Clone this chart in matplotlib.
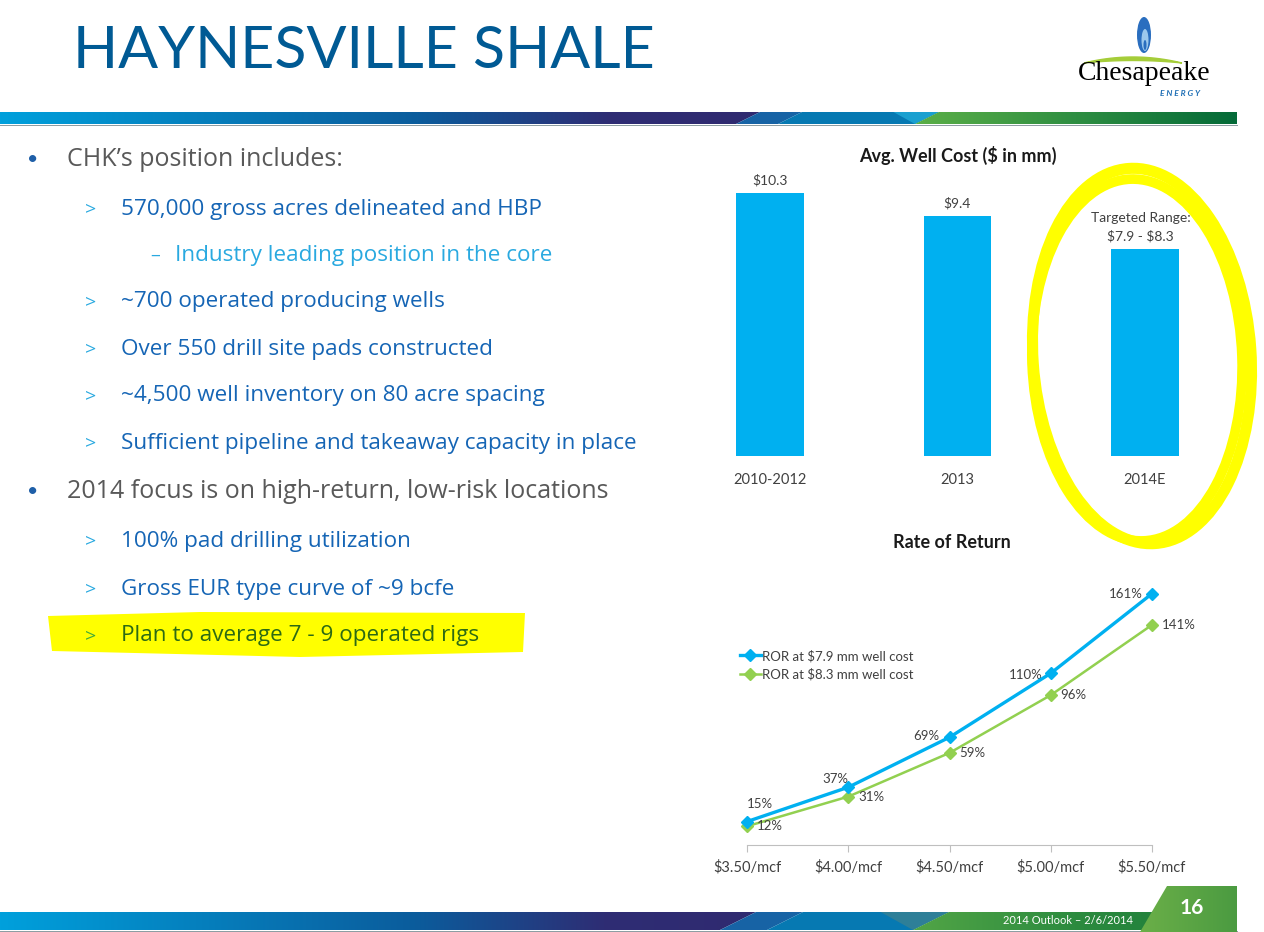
import numpy as np
import matplotlib
matplotlib.use("Agg")
import matplotlib.pyplot as plt
from matplotlib.patches import Polygon, Ellipse
from matplotlib.colors import LinearSegmentedColormap

plt.rcParams['font.family'] = ['Lato', 'DejaVu Sans']
plt.rcParams['text.parse_math'] = False
BODY = ['Open Sans', 'DejaVu Sans']

# ---- data ----
cost_categories = ['2010-2012', '2013', '2014E']
cost_values = [10.3, 9.4, 8.1]          # 2014E drawn at mid of targeted range
cost_labels = ['$10.3', '$9.4', 'Targeted Range:\n$7.9 - $8.3']

gas_prices = ['$3.50/mcf', '$4.00/mcf', '$4.50/mcf', '$5.00/mcf', '$5.50/mcf']
ror_79 = [15, 37, 69, 110, 161]
ror_83 = [12, 31, 59, 96, 141]
series_names = ['ROR at $7.9 mm well cost', 'ROR at $8.3 mm well cost']

bullet_levels = [0, 1, 2, 1, 1, 1, 1, 0, 1, 1, 1]
bullet_texts = [
    "CHK\u2019s position includes:",
    "570,000 gross acres delineated and HBP",
    "Industry leading position in the core",
    "~700 operated producing wells",
    "Over 550 drill site pads constructed",
    "~4,500 well inventory on 80 acre spacing",
    "Sufficient pipeline and takeaway capacity in place",
    "2014 focus is on high-return, low-risk locations",
    "100% pad drilling utilization",
    "Gross EUR type curve of ~9 bcfe",
    "Plan to average 7 - 9 operated rigs",
]
bullet_y = [160, 209, 256, 302, 349, 396, 443, 492, 541, 589, 636]

W, H = 1264, 932
fig = plt.figure(figsize=(W / 100, H / 100), dpi=100)
fig.patch.set_facecolor('white')

# overlay axes in pixel coordinates (y down)
ov = fig.add_axes([0, 0, 1, 1], zorder=0)
ov.axis('off')


def px_axes(x0, y0, x1, y1):
    a = fig.add_axes([x0 / W, 1 - y1 / H, (x1 - x0) / W, (y1 - y0) / H], zorder=2)
    a.patch.set_alpha(0)
    return a


def grad(poly_pts, x0, x1, y0, y1, stops, z=1):
    clip = Polygon(poly_pts, closed=True, fc='none', ec='none')
    ov.add_patch(clip)
    cmap = LinearSegmentedColormap.from_list('g', stops)
    im = ov.imshow(np.linspace(0, 1, 256)[None, :], cmap=cmap, extent=(x0, x1, y1, y0),
                   aspect='auto', zorder=z, interpolation='bilinear')
    im.set_clip_path(clip)


def band(y0, y1, pe, be, ge, xend, tri_col, green_stops):
    s = 2 * (y1 - y0)
    grad([(0, y0), (pe + s, y0), (pe, y1), (0, y1)], 0, pe + s, y0, y1,
         [(0, '#00A0DC'), (0.55, '#0B5C9C'), (0.8, '#2E2D74'), (1, '#302A70')])
    ov.add_patch(Polygon([(pe, y1), (pe + s, y0), (be + s, y0), (be, y1)], fc='#1763A5', ec='none', zorder=1))
    ov.add_patch(Polygon([(be, y1), (be + s, y0), (ge + s, y0), (ge, y1)], fc='#0679B2', ec='none', zorder=1))
    ov.add_patch(Polygon([(ge - 0.9 * s, y0), (ge + s, y0), (ge, y1)], fc=tri_col, ec='none', zorder=1))
    grad([(ge, y1), (ge + s, y0), (xend, y0), (xend, y1)], ge, xend, y0, y1, green_stops)
    ov.plot([0, xend], [y1 + 0.5, y1 + 0.5], color='#8A9AA0', lw=0.7, zorder=1)


# header band and footer band
band(112, 124, 736, 778, 915, 1237, '#1AA0D0', [(0, '#5BAF47'), (0.5, '#2E8E42'), (1, '#046A38')])
band(912, 930, 720, 767, 913, 1237, '#2E7F98', [(0, '#52A546'), (0.5, '#2C8B3F'), (1, '#1B7A3A')])
grad([(1140, 932), (1167, 886), (1237, 886), (1237, 932)], 1140, 1237, 886, 932,
     [(0, '#6BAF48'), (1, '#4B9B41')], z=2)
ov.text(1192, 908, '16', color='white', fontsize=15, fontweight='bold', ha='center', va='center', zorder=3)
ov.text(1068, 920, '2014 Outlook \u2013 2/6/2014', color='white', fontsize=8, ha='center', va='center', zorder=3)

# title
ov.text(73, 51, 'HAYNESVILLE SHALE', color='#005A94', fontsize=42.6, fontweight='normal',
        ha='left', va='center')

# logo
ov.add_patch(Ellipse((1144, 35), 14, 36, fc='#2A6EBF', ec='none', zorder=3))
ov.add_patch(Ellipse((1145, 40), 7, 22, fc='#9CC8EC', ec='none', zorder=3))
ov.add_patch(Ellipse((1145, 45), 3, 10, fc='#2A6EBF', ec='none', zorder=3))
sx = np.linspace(1084, 1182, 40)
sy = 63 - 6 * (1 - ((sx - 1133) / 49) ** 2)
ov.fill(np.r_[sx, sx[::-1]], np.r_[sy, sy[::-1] + 3.5 * (1 - ((sx[::-1] - 1133) / 49) ** 2)],
        color='#A5CD39', zorder=3)
ov.text(1144, 74, 'Chesapeake', family=['Liberation Serif', 'DejaVu Serif'], fontsize=20,
        color='black', ha='center', va='center', zorder=3)
ov.text(1180, 94, 'E N E R G Y', fontsize=6, color='#1F6FB5', fontweight='bold',
        style='italic', ha='center', va='center', zorder=3)

# yellow highlight on last bullet
ov.add_patch(Polygon([(48, 616), (200, 612), (525, 613), (523, 652), (300, 657), (52, 651)],
                     fc='#FFFF00', ec='none', zorder=1))

# bullets
for lvl, txt, y in zip(bullet_levels, bullet_texts, bullet_y):
    hl = txt.startswith('Plan')
    if lvl == 0:
        ov.text(33, y, '\u2022', color='#1F5FA8', fontsize=14, ha='center', va='center', zorder=3)
        ov.text(67, y, txt, family=BODY, color='#595959', fontsize=18, ha='left', va='center', zorder=3)
    elif lvl == 1:
        ov.text(85, y, '>', family=BODY, color='#3DAA3A' if hl else '#29A9E0', fontsize=14,
                ha='left', va='center', zorder=3)
        ov.text(121, y, txt, family=BODY, color='#2D6A14' if hl else '#1565B5', fontsize=16.2,
                ha='left', va='center', zorder=3)
    else:
        ov.text(150, y, '\u2013', family=BODY, color='#29A9E0', fontsize=14, ha='left', va='center', zorder=3)
        ov.text(175, y, txt, family=BODY, color='#29A9E0', fontsize=16.2, ha='left', va='center', zorder=3)

# yellow hand-drawn ring round 2014E
ov.add_patch(Ellipse((1142, 356), 218, 376, angle=-4, fc='none', ec='#FFFF00', lw=8, zorder=1))
ov.add_patch(Ellipse((1137, 360), 210, 362, angle=-2, fc='none', ec='#FFFF00', lw=7, zorder=1))

ov.set_xlim(0, W)
ov.set_ylim(H, 0)

# ---- bar chart ----
ax = px_axes(676, 150, 1238.5, 456)
xb = np.arange(len(cost_categories))
bars = ax.bar(xb, cost_values, width=0.36, color='#00B0F0')
ax.set_xlim(-0.5, 2.5)
ax.set_ylim(0, 12)
for rect, lab in zip(bars, cost_labels):
    ax.annotate(lab, (rect.get_x() + rect.get_width() / 2, rect.get_height()),
                xytext=(-3 if '\n' in lab else 0, 5), textcoords='offset points', ha='center', va='bottom',
                fontsize=10, color='#404040', linespacing=1.6)
ax.set_xticks(xb)
ax.set_xticklabels(cost_categories, fontsize=10.5, color='#404040')
ax.tick_params(axis='x', length=0, pad=12)
ax.set_yticks([])
for sp in ax.spines.values():
    sp.set_visible(False)
ov.text(958, 155, 'Avg. Well Cost ($ in mm)', fontsize=13, fontweight='bold', color='#1A1A1A',
        ha='center', va='center')

# ---- rate of return chart ----
ov.text(952, 542, 'Rate of Return', fontsize=13, fontweight='bold', color='#1A1A1A',
        ha='center', va='center')
lx = px_axes(747, 564, 1152, 845)
xp = np.arange(len(gas_prices))
lx.plot(xp, ror_79, color='#00B0F0', lw=2.4, marker='D', ms=6, clip_on=False, label=series_names[0], zorder=4)
lx.plot(xp, ror_83, color='#92D050', lw=1.8, marker='D', ms=6, clip_on=False, label=series_names[1], zorder=3)
lx.set_xlim(0, 4)
lx.set_ylim(0, 180)
blue_off = [(9, 13), (-9, 6), (-17, 1), (-18, -1), (-19, 0)]
for x, v, off in zip(xp, ror_79, blue_off):
    lx.annotate(f'{v}%', (x, v), xytext=off, textcoords='offset points', ha='center', va='center',
                fontsize=9.5, color='#404040')
for x, v in zip(xp, ror_83):
    lx.annotate(f'{v}%', (x, v), xytext=(7, 0), textcoords='offset points', ha='left', va='center',
                fontsize=9.5, color='#404040')
for side in ['left', 'right', 'top']:
    lx.spines[side].set_visible(False)
lx.spines['bottom'].set_color('#BFBFBF')
lx.set_yticks([])
lx.set_xticks(xp)
lx.set_xticklabels(gas_prices, fontsize=10.5, color='#404040')
lx.tick_params(axis='x', direction='out', length=5, color='#BFBFBF', pad=6)
lx.legend(loc='upper left', bbox_to_anchor=(733 / W, 1 - 643 / H), bbox_transform=fig.transFigure,
          frameon=False, fontsize=9.5, handlelength=1.6, handletextpad=0.1, labelspacing=0.45,
          borderpad=0, labelcolor='#404040')

fig.savefig('out.png', dpi=100)
